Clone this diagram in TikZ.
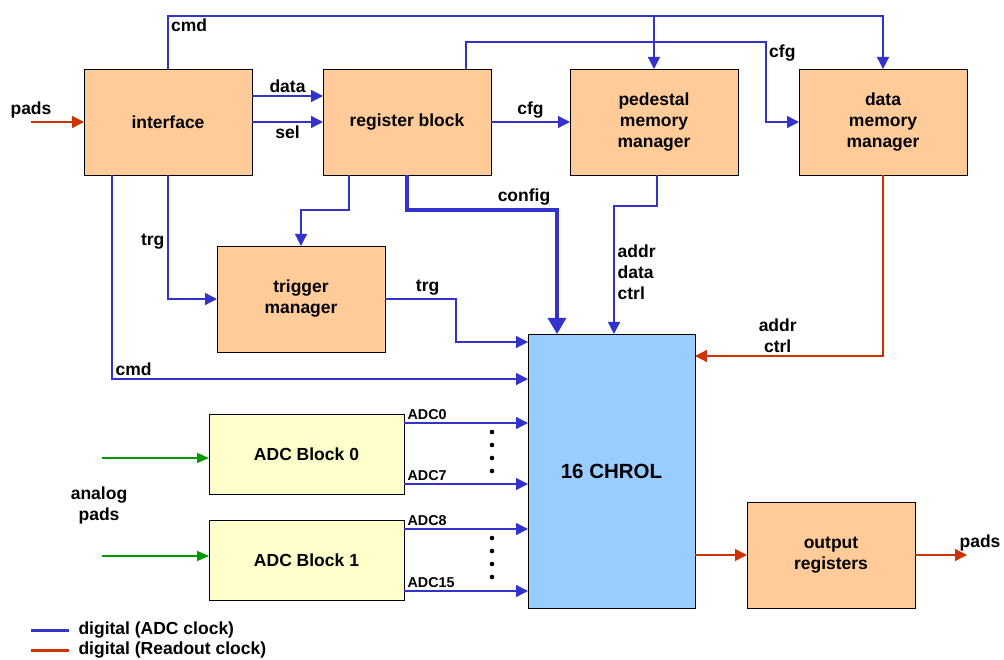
\documentclass[tikz,border=0pt]{standalone}
\usepackage{fontspec}
\setmainfont{Liberation Sans}
\usepackage{xcolor}
\usepackage{tikz}
\usetikzlibrary{arrows.meta, positioning}
\definecolor{sigblue}{RGB}{51,51,204}
\definecolor{sigred}{RGB}{204,51,0}
\definecolor{siggreen}{RGB}{0,153,0}
\definecolor{boxorange}{RGB}{255,204,153}
\definecolor{boxyellow}{RGB}{255,255,204}
\definecolor{boxblue}{RGB}{153,204,255}
\tikzstyle{block} = [rectangle, draw=black, line width=0.9pt,
fill=boxorange, minimum width=168pt, minimum height=106pt,
outer sep=0pt, inner sep=2pt,
align=center, font=\fontsize{17.5}{21}\selectfont\bfseries]
\tikzstyle{adcblock} = [block, fill=boxyellow, minimum width=195pt, minimum height=80pt]
\tikzstyle{chrolblock} = [block, fill=boxblue, minimum width=167pt, minimum height=274pt,
font=\fontsize{20.5}{24}\selectfont\bfseries]
\tikzstyle{lbl} = [inner sep=3pt, align=left, font=\fontsize{17.5}{21}\selectfont\bfseries]
\tikzstyle{adclbl} = [lbl, font=\fontsize{14.3}{16}\selectfont\bfseries]
\tikzstyle{arrow} = [-{Triangle[length=12pt,width=12pt]}, line width=1.3pt, draw=sigblue]
\tikzstyle{bigarrow} = [-{Triangle[length=16pt,width=18pt]}, line width=3.3pt, draw=sigblue]
\tikzstyle{redarrow} = [arrow, draw=sigred]
\tikzstyle{greenarrow} = [-{Triangle[length=12pt,width=10pt]}, line width=1.3pt, draw=siggreen]
\tikzstyle{legline} = [line width=3pt]

\begin{document}
\begin{tikzpicture}[x=1pt, y=-1pt, node distance=71pt]
    \useasboundingbox (0,0) rectangle (1004,660);

    % top row
    \node (iface)  [block] at (168,122)          {interface};
    \node (regblk) [block, right=71pt of iface]  {register block};
    \node (pedmem) [block, right=79pt of regblk] {pedestal\\memory\\manager};
    \node (datmem) [block, right=61pt of pedmem] {data\\memory\\manager};

    % rest of the blocks
    \node (trig)   [block] at (301,299)          {trigger\\manager};
    \node (chrol)  [chrolblock] at (611.5,471)   {16 CHROL};
    \node (outreg) [block] at (831,555)          {output\\registers};
    \node (adc0)   [adcblock] at (306.5,454)     {ADC Block 0};
    \node (adc1)   [adcblock] at (306.5,560)     {ADC Block 1};
    \node (analog) [lbl, align=center] at (99,505) {analog\\pads};

    \coordinate (padsin)  at (31,122);
    \coordinate (padsout) at (967,555);
    \coordinate (ana0)    at (102,458);
    \coordinate (ana1)    at (102,556);
    \coordinate (cfgturn) at (766,42);
    \coordinate (a0)  at ([yshift=31pt]adc0.east);
    \coordinate (a7)  at ([yshift=-30pt]adc0.east);
    \coordinate (a8)  at ([yshift=31pt]adc1.east);
    \coordinate (a15) at ([yshift=-31pt]adc1.east);

    % interface side
    \draw[redarrow] (padsin) -- node[lbl, above, pos=0] {pads} (iface.west);
    \draw[arrow] ([yshift=26pt]iface.east) -- node[lbl, above] {data} ([yshift=26pt]regblk.west);
    \draw[arrow] (iface.east) -- node[lbl, below] {sel} (regblk.west);
    \draw[arrow] (iface.north) -- ++(0,-53) coordinate (cmdtop) -| (datmem.north);
    \node (cmdlbl) [lbl, below right] at (cmdtop) {cmd};
    \draw[arrow] (cmdtop -| pedmem.north) -- (pedmem.north);
    \draw[arrow] (iface.south) |- node[lbl, pos=0.27, left] {trg} (trig.west);
    \draw[arrow] ([xshift=-56pt]iface.south) |- node[lbl, pos=0.5, above right] {cmd} ([yshift=92pt]chrol.west);

    % register block side
    \draw[arrow] (regblk.east) -- node[lbl, above] {cfg} (pedmem.west);
    \draw[arrow] ([xshift=-25pt]regblk.north east) |- (cfgturn) |- (datmem.west);
    \node (cfglbl) [lbl, below right] at (cfgturn) {cfg};
    \draw[arrow] ([xshift=-58pt]regblk.south) -- ++(0,35) -| (trig.north);
    \draw[bigarrow] (regblk.south) -- ++(0,35) -| node[lbl, pos=0.39, above] {config} ([xshift=-54.5pt]chrol.north);

    % memories into chrol
    \draw[arrow] ([xshift=3pt]pedmem.south) -- ++(0,31) -| node[lbl, pos=0.76, right] {addr\\data\\ctrl} ([xshift=2.5pt]chrol.north);
    \draw[redarrow] (datmem.south) |- node[lbl, pos=0.78, above, align=center] {addr\\ctrl} ([yshift=115pt]chrol.east);
    \draw[arrow] (trig.east) -- node[lbl, above, pos=0.6] {trg} ++(71,0) |- ([yshift=129pt]chrol.west);

    % adc channels
    \draw[greenarrow] (ana0) -- (ana0 -| adc0.west);
    \draw[greenarrow] (ana1) -- (ana1 -| adc1.west);
    \draw[arrow] (a0)  -- node[adclbl, above right, pos=0] {ADC0}  (a0 -| chrol.west);
    \draw[arrow] (a7)  -- node[adclbl, above right, pos=0] {ADC7}  (a7 -| chrol.west);
    \draw[arrow] (a8)  -- node[adclbl, above right, pos=0] {ADC8}  (a8 -| chrol.west);
    \draw[arrow] (a15) -- node[adclbl, above right, pos=0] {ADC15} (a15 -| chrol.west);
    \foreach \y in {432,445,458,471,538,551,564,577}
        \fill (492,\y) circle (2.3pt);

    % readout
    \draw[redarrow] (chrol.east |- outreg.west) -- (outreg.west);
    \draw[redarrow] (outreg.east) -- node[lbl, pos=1, above, xshift=13pt] {pads} (padsout);

    % legend
    \draw[legline, draw=sigblue] (31,630) -- ++(38,0) node (legadc) [lbl, right, xshift=5pt] {digital (ADC clock)};
    \draw[legline, draw=sigred]  (31,650) -- ++(38,0) node (legro)  [lbl, right, xshift=5pt] {digital (Readout clock)};
\end{tikzpicture}
\end{document}
